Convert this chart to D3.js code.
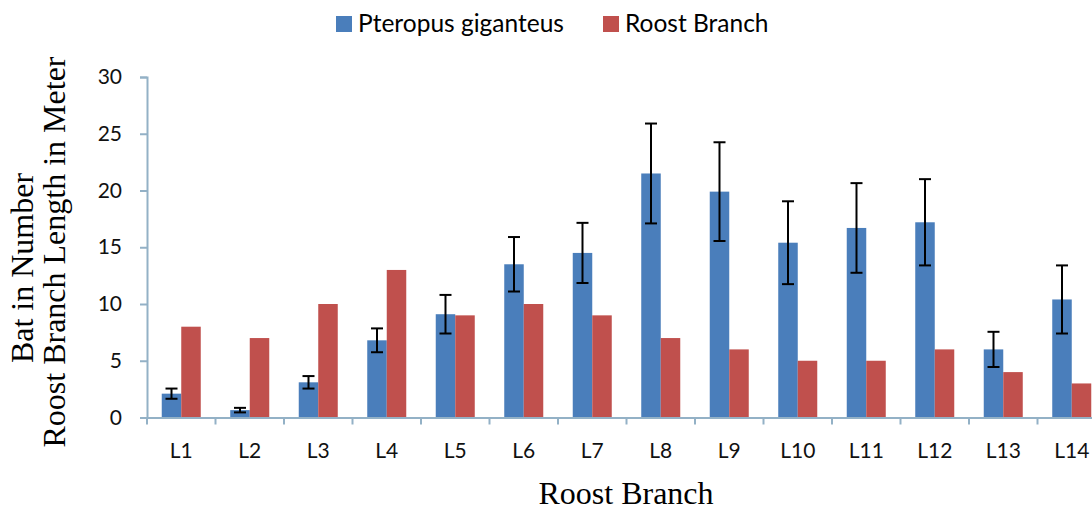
<!DOCTYPE html>
<html>
<head>
<meta charset="utf-8">
<script src="https://cdn.jsdelivr.net/npm/d3@7"></script>
<style>
  body { margin: 0; background: #fff; }
  svg { display: block; }
</style>
</head>
<body>
<div class="chart"></div>
<script>
// roost branches along the x axis
var categories = ["L1", "L2", "L3", "L4", "L5", "L6", "L7", "L8", "L9", "L10", "L11", "L12", "L13", "L14"];

// Pteropus giganteus counts (mean) and their error bars
var batCounts = [2.1, 0.65, 3.1, 6.8, 9.1, 13.5, 14.5, 21.5, 19.9, 15.4, 16.7, 17.2, 6.0, 10.4];
var batErrors = [0.45, 0.2, 0.55, 1.05, 1.7, 2.4, 2.65, 4.4, 4.35, 3.65, 3.95, 3.8, 1.55, 3.0];

// roost branch length in meter
var branchLengths = [8, 7, 10, 13, 9, 10, 9, 7, 6, 5, 5, 6, 4, 3];

var seriesNames = ["Pteropus giganteus", "Roost Branch"];
var seriesColors = ["#4a7ebb", "#c0504d"];
var yTicks = [0, 5, 10, 15, 20, 25, 30];

var svgWidth = 1092;
var svgHeight = 511;

var margin = { top: 77, left: 147, bottom: 93.5 };
var height = svgHeight - margin.top - margin.bottom;
var width = 14 * 68.5; // runs past the right edge, like the cropped original

var svg = d3.select(".chart")
  .append("svg")
  .attr("width", svgWidth)
  .attr("height", svgHeight);

svg.append("rect")
  .attr("width", svgWidth)
  .attr("height", svgHeight)
  .attr("fill", "#fff");

var chartGroup = svg.append("g")
  .attr("transform", `translate(${margin.left}, ${margin.top})`);

// scales
var x0 = d3.scaleBand()
  .domain(categories)
  .range([0, width]);

var x1 = d3.scaleBand()
  .domain(seriesNames)
  .range([0, x0.bandwidth()])
  .paddingOuter(0.756);

var yLinearScale = d3.scaleLinear()
  .domain([0, 30])
  .range([height, 0]);

var rows = categories.map(function(c, i) {
  return { cat: c, bat: batCounts[i], err: batErrors[i], len: branchLengths[i] };
});

// y axis
var yAxis = d3.axisLeft(yLinearScale)
  .tickValues(yTicks)
  .tickSize(7)
  .tickPadding(18);

var yG = chartGroup.append("g").call(yAxis);
yG.select(".domain").attr("stroke", "#93b1c6").attr("stroke-width", 2);
yG.selectAll(".tick line").attr("stroke", "#93b1c6").attr("stroke-width", 2);
yG.selectAll(".tick text")
  .attr("font-family", "Lato, sans-serif")
  .attr("font-size", 21)
  .attr("fill", "#111");

// bars
var groups = chartGroup.selectAll(".grp")
  .data(rows)
  .enter()
  .append("g")
  .attr("class", "grp")
  .attr("transform", d => `translate(${x0(d.cat)}, 0)`);

groups.append("rect")
  .attr("x", x1(seriesNames[0]))
  .attr("y", d => yLinearScale(d.bat))
  .attr("width", x1.bandwidth())
  .attr("height", d => height - yLinearScale(d.bat))
  .attr("fill", seriesColors[0]);

groups.append("rect")
  .attr("x", x1(seriesNames[1]))
  .attr("y", d => yLinearScale(d.len))
  .attr("width", x1.bandwidth())
  .attr("height", d => height - yLinearScale(d.len))
  .attr("fill", seriesColors[1]);

// error bars on the bat counts
var errG = groups.append("g")
  .attr("stroke", "#000")
  .attr("stroke-width", 2);

var cx = x1(seriesNames[0]) + x1.bandwidth() / 2;
errG.append("line")
  .attr("x1", cx).attr("x2", cx)
  .attr("y1", d => yLinearScale(d.bat + d.err))
  .attr("y2", d => yLinearScale(d.bat - d.err));
errG.append("line")
  .attr("x1", cx - 6).attr("x2", cx + 6)
  .attr("y1", d => yLinearScale(d.bat + d.err))
  .attr("y2", d => yLinearScale(d.bat + d.err));
errG.append("line")
  .attr("x1", cx - 6).attr("x2", cx + 6)
  .attr("y1", d => yLinearScale(d.bat - d.err))
  .attr("y2", d => yLinearScale(d.bat - d.err));

// x axis, ticks between the categories
var xAxis = d3.axisBottom(x0).tickSize(0).tickPadding(26);
var xG = chartGroup.append("g")
  .attr("transform", `translate(0, ${height})`)
  .call(xAxis);
xG.select(".domain").attr("stroke", "#93b1c6").attr("stroke-width", 2);
xG.selectAll(".tick text")
  .attr("font-family", "Lato, sans-serif")
  .attr("font-size", 21)
  .attr("fill", "#111");

xG.selectAll(".sep")
  .data(categories)
  .enter()
  .append("line")
  .attr("x1", d => x0(d)).attr("x2", d => x0(d))
  .attr("y1", 0).attr("y2", 7)
  .attr("stroke", "#93b1c6")
  .attr("stroke-width", 2);

// axis titles
var serif = "'Liberation Serif', 'Times New Roman', serif";

svg.append("text")
  .attr("transform", "translate(33, 268) rotate(-90)")
  .attr("text-anchor", "middle")
  .attr("font-family", serif)
  .attr("font-size", 32)
  .attr("fill", "#000")
  .text("Bat in Number");

svg.append("text")
  .attr("transform", "translate(65, 252) rotate(-90)")
  .attr("text-anchor", "middle")
  .attr("font-family", serif)
  .attr("font-size", 32)
  .attr("fill", "#000")
  .text("Roost Branch Length in Meter");

svg.append("text")
  .attr("x", 626)
  .attr("y", 504)
  .attr("text-anchor", "middle")
  .attr("font-family", serif)
  .attr("font-size", 32)
  .attr("fill", "#000")
  .text("Roost Branch");

// legend
var legendX = [336, 603];
var legend = svg.selectAll(".legend")
  .data(seriesNames)
  .enter()
  .append("g")
  .attr("class", "legend")
  .attr("transform", (d, i) => `translate(${legendX[i]}, 16)`);

legend.append("rect")
  .attr("width", 16)
  .attr("height", 16)
  .attr("fill", (d, i) => seriesColors[i]);

legend.append("text")
  .attr("x", 22)
  .attr("y", 16)
  .attr("font-family", "Lato, sans-serif")
  .attr("font-size", 24.5)
  .attr("fill", "#000")
  .text(d => d);
</script>
</body>
</html>
